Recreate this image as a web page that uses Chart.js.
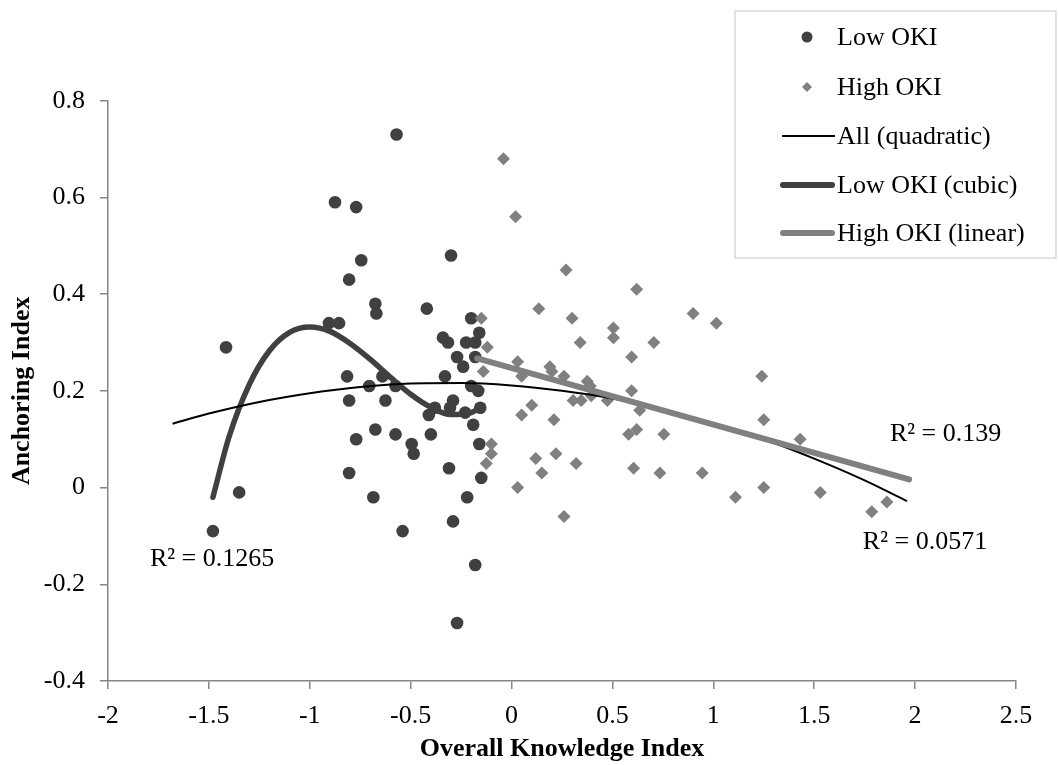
<!DOCTYPE html>
<html><head><meta charset="utf-8">
<script src="https://cdn.jsdelivr.net/npm/chart.js@4/dist/chart.umd.min.js"></script>
<style>html,body{margin:0;padding:0;background:#fff;}#wrap{position:relative;width:1058px;height:765px;}</style>
</head><body><div id="wrap"><canvas id="c" width="1058" height="765"></canvas></div>
<script>
// ---- axis ticks ----
const xTicks = [-2, -1.5, -1, -0.5, 0, 0.5, 1, 1.5, 2, 2.5];
const xTickLabels = ['-2', '-1.5', '-1', '-0.5', '0', '0.5', '1', '1.5', '2', '2.5'];
const yTicks = [-0.4, -0.2, 0, 0.2, 0.4, 0.6, 0.8];
const yTickLabels = ['-0.4', '-0.2', '0', '0.2', '0.4', '0.6', '0.8'];

// ---- Low OKI points ----
const lowOkiX = [-0.57, -0.875, -0.77, -0.745, -0.805, -0.30, -0.675, -0.67, -0.42, -0.905, -0.855, -1.415, -0.20, -0.16, -0.34, -0.315, -0.225, -0.18, -0.27, -0.24, -0.18, -0.815, -0.33, -0.705, -0.64, -0.575, -0.20, -0.165, -0.805, -0.625, -0.29, -0.305, -0.41, -0.38, -0.19, -0.155, -0.23, -0.675, -0.77, -0.575, -0.40, -0.495, -0.485, -0.16, -0.31, -0.15, -0.805, -1.35, -0.685, -0.22, -0.29, -1.48, -0.54, -0.18, -0.27];
const lowOkiY = [0.73, 0.59, 0.58, 0.47, 0.43, 0.48, 0.38, 0.36, 0.37, 0.34, 0.34, 0.29, 0.35, 0.32, 0.31, 0.30, 0.30, 0.30, 0.27, 0.25, 0.27, 0.23, 0.23, 0.21, 0.23, 0.21, 0.21, 0.20, 0.18, 0.18, 0.18, 0.165, 0.15, 0.165, 0.13, 0.165, 0.155, 0.12, 0.10, 0.11, 0.11, 0.09, 0.07, 0.09, 0.04, 0.02, 0.03, -0.01, -0.02, -0.02, -0.07, -0.09, -0.09, -0.16, -0.28];

// ---- High OKI points ----
const highOkiX = [-0.04, 0.02, 0.27, 0.62, 0.135, 0.30, 0.90, 1.015, -0.15, 0.505, 0.505, 0.34, 0.705, 0.595, -0.12, 0.03, -0.14, 0.19, 0.20, 0.26, 0.375, 0.05, 0.39, 1.24, 0.595, 0.475, 0.305, 0.345, 0.395, 0.635, 1.25, 0.62, 0.58, 0.755, 1.43, 0.10, 0.05, 0.21, -0.10, -0.10, -0.125, 0.12, 0.22, 0.32, 0.15, 0.605, 0.735, 0.945, 1.25, 1.11, 1.53, 1.86, 1.785, 0.03, 0.26];
const highOkiY = [0.68, 0.56, 0.45, 0.41, 0.37, 0.35, 0.36, 0.34, 0.35, 0.33, 0.31, 0.30, 0.30, 0.27, 0.29, 0.26, 0.24, 0.25, 0.24, 0.23, 0.22, 0.23, 0.21, 0.23, 0.20, 0.18, 0.18, 0.18, 0.19, 0.16, 0.14, 0.12, 0.11, 0.11, 0.10, 0.17, 0.15, 0.14, 0.09, 0.07, 0.05, 0.06, 0.07, 0.05, 0.03, 0.04, 0.03, 0.03, 0.00, -0.02, -0.01, -0.03, -0.05, 0.00, -0.06];

// ---- trendlines ----
const quadX = [-1.68, -1.5, -1.25, -1.0, -0.75, -0.5, -0.25, 0, 0.25, 0.5, 0.75, 1.0, 1.25, 1.5, 1.75, 1.96];
const quadY = [0.132, 0.153, 0.177, 0.195, 0.208, 0.215, 0.216, 0.211, 0.200, 0.184, 0.161, 0.133, 0.100, 0.060, 0.015, -0.028];
const cubicX = [-1.48, -1.4, -1.3, -1.2, -1.1, -1.0, -0.9, -0.8, -0.7, -0.6, -0.5, -0.4, -0.3, -0.2, -0.155];
const cubicY = [-0.02, 0.105, 0.213, 0.283, 0.321, 0.332, 0.323, 0.298, 0.265, 0.228, 0.193, 0.166, 0.151, 0.155, 0.166];
const linX = [-0.17, 1.97];
const linY = [0.267, 0.017];

const seriesNames = ['Low OKI', 'High OKI', 'All (quadratic)', 'Low OKI (cubic)', 'High OKI (linear)'];
const r2Texts = ['R\u00B2 = 0.1265', 'R\u00B2 = 0.139', 'R\u00B2 = 0.0571'];

const pts = (xs, ys) => xs.map((x, i) => ({x: x, y: ys[i]}));
const FONT = "'Liberation Serif'";
const AXIS = '#868686';
const DARK = '#404040';
const GREY = '#808080';

const overlay = {
  id: 'overlay',
  afterDraw(chart) {
    const ctx = chart.ctx;
    const xs = chart.scales.x, ys = chart.scales.y;
    ctx.save();
    // R² labels (anchored in data units: left / baseline)
    ctx.fillStyle = '#000';
    ctx.font = '26px ' + FONT;
    ctx.textAlign = 'left';
    ctx.textBaseline = 'alphabetic';
    const anchors = [[-1.792, -0.163], [1.875, 0.096], [1.741, -0.127]];
    anchors.forEach((a, i) => ctx.fillText(r2Texts[i], xs.getPixelForValue(a[0]), ys.getPixelForValue(a[1])));
    // legend
    ctx.fillStyle = '#fff';
    ctx.fillRect(735, 11, 321, 247);
    ctx.strokeStyle = '#d9d9d9';
    ctx.lineWidth = 1.5;
    ctx.strokeRect(735, 11, 321, 247);
    const rows = [37, 87, 136, 185, 233];
    ctx.fillStyle = DARK;
    ctx.beginPath(); ctx.arc(807, rows[0], 5.5, 0, Math.PI * 2); ctx.fill();
    ctx.fillStyle = GREY;
    ctx.beginPath();
    ctx.moveTo(807 - 5, rows[1]); ctx.lineTo(807, rows[1] - 5); ctx.lineTo(807 + 5, rows[1]); ctx.lineTo(807, rows[1] + 5);
    ctx.closePath(); ctx.fill();
    ctx.lineCap = 'butt';
    ctx.strokeStyle = '#000'; ctx.lineWidth = 2;
    ctx.beginPath(); ctx.moveTo(782, rows[2]); ctx.lineTo(835, rows[2]); ctx.stroke();
    ctx.lineCap = 'round';
    ctx.strokeStyle = DARK; ctx.lineWidth = 6;
    ctx.beginPath(); ctx.moveTo(783, rows[3]); ctx.lineTo(832, rows[3]); ctx.stroke();
    ctx.strokeStyle = GREY; ctx.lineWidth = 6;
    ctx.beginPath(); ctx.moveTo(783, rows[4]); ctx.lineTo(832, rows[4]); ctx.stroke();
    ctx.fillStyle = '#000';
    ctx.font = '26px ' + FONT;
    ctx.textBaseline = 'middle';
    seriesNames.forEach((n, i) => ctx.fillText(n, 837, rows[i] + 1));
    ctx.restore();
  }
};

new Chart(document.getElementById('c'), {
  type: 'scatter',
  data: {
    datasets: [
      {label: seriesNames[4], data: pts(linX, linY), showLine: true, borderColor: GREY, borderWidth: 6, borderCapStyle: 'round', pointRadius: 0, order: 0},
      {label: seriesNames[2], data: pts(quadX, quadY), showLine: true, borderColor: '#000', borderWidth: 2, pointRadius: 0, cubicInterpolationMode: 'monotone', order: 1},
      {label: seriesNames[3], data: pts(cubicX, cubicY), showLine: true, borderColor: DARK, borderWidth: 5.5, borderCapStyle: 'round', pointRadius: 0, cubicInterpolationMode: 'monotone', order: 2},
      {label: seriesNames[1], data: pts(highOkiX, highOkiY), pointStyle: 'rectRot', pointRadius: 6.5, backgroundColor: GREY, borderWidth: 0, order: 3},
      {label: seriesNames[0], data: pts(lowOkiX, lowOkiY), pointStyle: 'circle', pointRadius: 6.3, backgroundColor: DARK, borderWidth: 0, order: 4}
    ]
  },
  options: {
    responsive: false,
    animation: false,
    devicePixelRatio: 1,
    layout: {padding: {top: 100.7, right: 42, bottom: 0, left: 0}},
    plugins: {legend: {display: false}, tooltip: {enabled: false}},
    scales: {
      x: {
        type: 'linear', min: -2, max: 2.5,
        afterBuildTicks: s => { s.ticks = xTicks.map(v => ({value: v})); },
        afterFit: s => { s.height = 84; },
        ticks: {callback: v => xTickLabels[xTicks.indexOf(v)], font: {family: FONT, size: 26}, color: '#000', padding: 12, maxRotation: 0, autoSkip: false},
        grid: {drawOnChartArea: false, drawTicks: true, tickLength: 8, color: AXIS, lineWidth: 1.5},
        border: {color: AXIS, width: 1.5},
        title: {display: true, text: 'Overall Knowledge Index', font: {family: FONT, size: 26, weight: 'bold'}, color: '#000', padding: {top: 0, bottom: 0}}
      },
      y: {
        type: 'linear', min: -0.4, max: 0.8,
        afterBuildTicks: s => { s.ticks = yTicks.map(v => ({value: v})); },
        afterFit: s => { s.width = 108; },
        ticks: {callback: v => yTickLabels[yTicks.indexOf(v)], font: {family: FONT, size: 26}, color: '#000', padding: 15, autoSkip: false},
        grid: {drawOnChartArea: false, drawTicks: true, tickLength: 8, color: AXIS, lineWidth: 1.5},
        border: {color: AXIS, width: 1.5},
        title: {display: true, text: 'Anchoring Index', font: {family: FONT, size: 26, weight: 'bold'}, color: '#000', padding: {top: 7, bottom: 0}}
      }
    }
  },
  plugins: [overlay]
});
</script></body></html>
